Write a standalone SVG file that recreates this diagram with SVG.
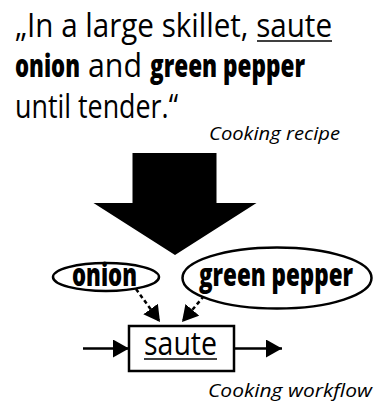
<svg xmlns="http://www.w3.org/2000/svg" width="374" height="406" viewBox="0 0 374 406">
  <style>
    .reg { font-family: "Open Sans", "Noto Sans", sans-serif; font-size: 32px; fill: #000; }
    .bold { font-family: "Open Sans", "Noto Sans", sans-serif; font-size: 32px; font-weight: 800; fill: #000; }
    .cap { font-family: "Open Sans", "Noto Sans", sans-serif; font-size: 19px; font-style: italic; fill: #000; }
    .node { fill: #fff; stroke: #000; stroke-width: 2.5; }
    .flow { fill: none; stroke: #000; stroke-width: 2.5; }
    .dash { fill: none; stroke: #000; stroke-width: 2.5; stroke-dasharray: 4 3; }
    .ul { stroke: #000; stroke-width: 1.6; }
  </style>
  <defs>
    <marker id="head" viewBox="0 0 16 18" refX="16" refY="9" markerWidth="16" markerHeight="18" markerUnits="userSpaceOnUse" orient="auto">
      <path d="M0,0 L16,9 L0,18 Z" fill="#000"/>
    </marker>
  </defs>

  <!-- recipe sentence -->
  <g id="recipe">
    <text class="reg" x="15" y="37" textLength="317" lengthAdjust="spacingAndGlyphs">„In a large skillet, saute</text>
    <line class="ul" x1="257" y1="41" x2="332" y2="41"/>
    <text class="bold" x="15" y="77" textLength="65" lengthAdjust="spacingAndGlyphs">onion</text>
    <text class="reg" x="88" y="77" textLength="54" lengthAdjust="spacingAndGlyphs">and</text>
    <text class="bold" x="150" y="77" textLength="155" lengthAdjust="spacingAndGlyphs">green pepper</text>
    <text class="reg" x="15" y="118" textLength="163" lengthAdjust="spacingAndGlyphs">until tender.“</text>
    <text class="cap" x="209" y="140" textLength="131" lengthAdjust="spacingAndGlyphs">Cooking recipe</text>
  </g>

  <!-- big transformation arrow -->
  <g id="transform">
    <polygon points="132.5,153 216.5,153 216.5,203 256.5,203 175,255 93.5,203 132.5,203" fill="#000"/>
  </g>

  <!-- connectors -->
  <g id="connectors">
    <path class="dash" d="M136,289 L160,322" marker-end="url(#head)"/>
    <path class="dash" d="M204,296 L182,322" marker-end="url(#head)"/>
    <path class="flow" d="M83,348.5 L129,348.5" marker-end="url(#head)"/>
    <path class="flow" d="M234,348.5 L282,348.5" marker-end="url(#head)"/>
  </g>

  <g id="onion">
    <ellipse class="node" cx="106" cy="277" rx="53" ry="14"/>
    <text class="bold" x="72" y="286" textLength="65" lengthAdjust="spacingAndGlyphs">onion</text>
  </g>

  <g id="green-pepper">
    <ellipse class="node" cx="277" cy="278" rx="94.5" ry="30.5"/>
    <text class="bold" x="199" y="286" textLength="154" lengthAdjust="spacingAndGlyphs">green pepper</text>
  </g>

  <g id="saute">
    <rect class="node" x="129" y="326" width="105" height="45"/>
    <text class="reg" x="144" y="355" textLength="73" lengthAdjust="spacingAndGlyphs">saute</text>
    <line class="ul" x1="144" y1="359" x2="217" y2="359"/>
  </g>

  <text class="cap" x="208" y="397" textLength="164" lengthAdjust="spacingAndGlyphs">Cooking workflow</text>
</svg>
